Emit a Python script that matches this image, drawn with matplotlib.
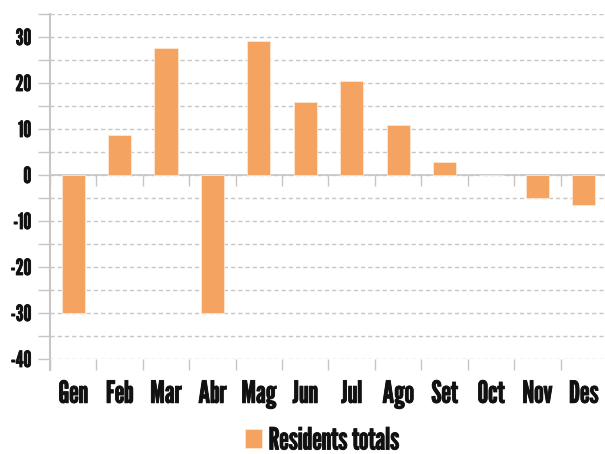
import matplotlib
matplotlib.use("Agg")
import matplotlib.pyplot as plt
import matplotlib.patheffects as pe
import numpy as np

months = ["Gen", "Feb", "Mar", "Abr", "Mag", "Jun", "Jul", "Ago", "Set", "Oct", "Nov", "Des"]
residents = [-30, 8.8, 27.5, -30, 29.2, 15.9, 20.5, 10.8, 2.8, 0.1, -5.1, -6.5]
series_name = "Residents totals"

FONT = ["League Gothic", "DejaVu Sans"]
BAR = "#F4A460"
GRID = "#c6c6c6"
TXT = "#111111"
BOLD = [pe.withStroke(linewidth=0.6, foreground=TXT)]

fig = plt.figure(figsize=(6.05, 4.54), dpi=100)
W, H = 605, 454
ax = fig.add_axes([50 / W, 1 - 359 / H, 557 / W, (359 - 14) / H])

x = np.arange(len(months))
ax.bar(x, residents, width=0.5, color=BAR, edgecolor="#fde8d2", linewidth=0.6,
       zorder=3, label=series_name)

ax.set_xlim(-0.5, len(months) - 0.5)
ax.set_ylim(-40, 35)

# y ticks
ax.set_yticks(np.arange(-40, 31, 10))
ax.set_yticks(np.arange(-35, 36, 10), minor=True)
ax.set_yticklabels([f"{v}" for v in range(-40, 31, 10)], fontfamily=FONT,
                   fontsize=16, color=TXT)
ax.tick_params(axis="y", which="both", length=8.5, width=1.0, color=GRID, pad=5)
ax.yaxis.grid(True, which="both", linestyle=(0, (3, 2.2)), color=GRID, linewidth=1.0, zorder=0)

# x ticks: boundaries as tick marks, labels at centers
bounds = np.arange(-0.5, len(months), 1.0)
ax.set_xticks(bounds)
ax.set_xticklabels([])
ax.set_xticks(x, minor=True)
ax.set_xticklabels(months, minor=True, fontfamily=FONT, fontsize=22, color=TXT)
ax.tick_params(axis="x", which="major", length=8, width=1.0, color=GRID)
ax.tick_params(axis="x", which="minor", length=0, pad=15)

for lbl in ax.get_yticklabels() + ax.get_xticklabels(minor=True):
    lbl.set_path_effects(BOLD)

# zero line with small ticks below
ax.axhline(0, color=GRID, linewidth=1.2, zorder=2)
ax.vlines(bounds, -2.4, 0, color=GRID, linewidth=1.0, zorder=2)

for s in ["top", "right", "bottom"]:
    ax.spines[s].set_visible(False)
ax.spines["left"].set_color(GRID)
ax.spines["left"].set_linewidth(1.5)
ax.spines["left"].set_bounds(-42.4, 35)
ax.set_axisbelow(True)

leg = fig.legend(loc="center", bbox_to_anchor=(322 / W, 1 - 441 / H), frameon=False,
                 handlelength=0.58, handleheight=0.58, handletextpad=0.2,
                 borderpad=0, prop={"family": FONT, "size": 22})
for t in leg.get_texts():
    t.set_color(TXT)
    t.set_path_effects(BOLD)

fig.savefig("out.png", dpi=100)
